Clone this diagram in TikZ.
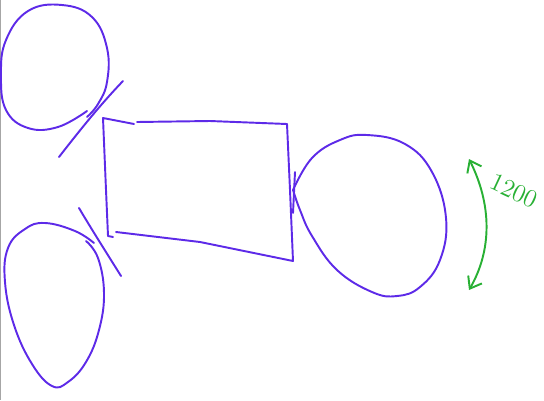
\documentclass[tikz,border=0pt]{standalone}
\usepackage{xcolor}
\usepackage{tikz}
\usetikzlibrary{arrows.meta}

\definecolor{inkblue}{RGB}{93,42,232}
\definecolor{inkgreen}{RGB}{40,176,52}

\begin{document}
\begin{tikzpicture}[x=0.02cm,y=-0.02cm,
    pen/.style={draw=inkblue,line width=1.1pt,line cap=round,line join=round},
    gpen/.style={draw=inkgreen,line width=1.1pt,line cap=round}]
      \useasboundingbox (0,0) rectangle (544,400);
      \draw[gray!70,line width=1pt] (0.5,0) -- (0.5,400);
        % top left ball
      \draw[pen] plot[smooth,tension=0.7] coordinates {(87,111) (58,127) (28,128) (6,110) (1,75) (6,40) (28,11) (62,5) (92,17) (107,48) (107,82) (98,104) (87,117)};
      \draw[pen] (123,81) .. controls (100,105) and (80,130) .. (59,157);
        % bottom left ball
      \draw[pen] plot[smooth,tension=0.7] coordinates {(86,241) (98,258) (104,293) (99,330) (86,362) (68,382) (52,386) (32,364) (14,325) (5,282) (8,248) (25,229) (45,223) (75,231) (94,243)};
      \draw[pen] (79,208) .. controls (92,230) and (106,252) .. (121,276);
        % block
      \draw[pen] (134,124) -- (103,118) -- (106,190) -- (108,236) -- (113,237);
      \draw[pen] (137,122) -- (210,121) -- (287,124) -- (290,190) -- (293,261) -- (200,242) -- (116,232);
        % right ball
      \draw[pen] plot[smooth,tension=0.7] coordinates {(293,190) (312,158) (340,140) (367,135) (405,144) (432,172) (446,218) (440,260) (420,287) (397,296) (372,292) (337,270) (312,236) (300,210) (293,190)};
      \draw[pen] (295,172) -- (293,213);
        % angle
      \draw[gpen,{Straight Barb[length=6pt,width=9pt]}-{Straight Barb[length=6pt,width=9pt]}] (469,159) .. controls (492,205) and (492,250) .. (469,290);
      \node[text=inkgreen,font=\Large,rotate=-25,inner sep=1pt] (ang) at (514,191) {1200};
\end{tikzpicture}
\end{document}
